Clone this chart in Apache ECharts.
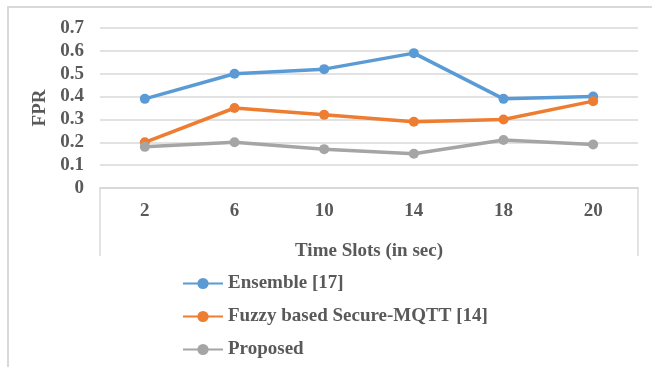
<!DOCTYPE html>
<html>
<head>
<meta charset="utf-8">
<script src="https://cdn.jsdelivr.net/npm/echarts@6/dist/echarts.min.js"></script>
<style>
  html, body { margin: 0; padding: 0; background: #fff; }
  #chart { width: 652px; height: 367px; }
</style>
</head>
<body>
<div id="chart"></div>
<script>
// Time slots on the x axis (seconds)
const timeSlots = ['2', '6', '10', '14', '18', '20'];

// False positive rate for each method
const ensemble = [0.39, 0.50, 0.52, 0.59, 0.39, 0.40];
const fuzzyMqtt = [0.20, 0.35, 0.32, 0.29, 0.30, 0.38];
const proposed = [0.18, 0.20, 0.17, 0.15, 0.21, 0.19];

const seriesNames = ['Ensemble [17]', 'Fuzzy based Secure-MQTT [14]', 'Proposed'];
const yTicks = { min: 0, max: 0.7, interval: 0.1 };

const FONT = '"Liberation Serif", "Times New Roman", serif';
const TEXT = '#595959';
const LINE = '#d9d9d9';
const FS = 19;

const chart = echarts.init(document.getElementById('chart'));

function lineSeries(name, data, color) {
  return {
    name: name,
    type: 'line',
    data: data,
    symbol: 'circle',
    symbolSize: 10,
    lineStyle: { width: 3.5, color: color },
    itemStyle: { color: color },
    z: 3
  };
}

chart.setOption({
  animation: false,
  textStyle: { fontFamily: FONT },
  grid: { left: 100, right: 14, top: 28, bottom: 179 },
  xAxis: {
    type: 'category',
    data: timeSlots,
    boundaryGap: true,
    axisLine: { lineStyle: { color: LINE, width: 1.5 } },
    axisTick: { show: false },
    axisLabel: { color: TEXT, fontSize: FS, fontWeight: 'bold', fontFamily: FONT, margin: 14 },
    name: 'Time Slots (in sec)',
    nameLocation: 'middle',
    nameGap: 54,
    nameTextStyle: { color: TEXT, fontSize: FS, fontWeight: 'bold', fontFamily: FONT }
  },
  yAxis: {
    type: 'value',
    min: yTicks.min,
    max: yTicks.max,
    interval: yTicks.interval,
    axisLine: { show: false },
    axisTick: { show: false },
    splitLine: { lineStyle: { color: LINE, width: 1.5 } },
    axisLabel: {
      color: TEXT, fontSize: FS, fontWeight: 'bold', fontFamily: FONT, margin: 16,
      formatter: v => (Math.round(v * 10) / 10).toString()
    },
    name: 'FPR',
    nameLocation: 'middle',
    nameRotate: 90,
    nameGap: 50,
    nameTextStyle: { color: TEXT, fontSize: FS, fontWeight: 'bold', fontFamily: FONT }
  },
  legend: {
    orient: 'vertical',
    left: 182,
    top: 274,
    padding: 0,
    itemWidth: 40,
    itemHeight: 14,
    itemGap: 14,
    data: seriesNames,
    textStyle: { color: TEXT, fontSize: FS, fontWeight: 'bold', fontFamily: FONT }
  },
  graphic: [
    {
      // outer chart-area frame
      type: 'rect',
      shape: { x: 8, y: 7, width: 700, height: 400 },
      style: { fill: 'none', stroke: LINE, lineWidth: 2 },
      silent: true
    },
    {
      // category axis frame below the plot
      type: 'polyline',
      shape: { points: [[100, 256], [100, 188], [638, 188], [638, 256]] },
      style: { fill: 'none', stroke: LINE, lineWidth: 1.5 },
      silent: true
    }
  ],
  series: [
    lineSeries(seriesNames[0], ensemble, '#5B9BD5'),
    lineSeries(seriesNames[1], fuzzyMqtt, '#ED7D31'),
    lineSeries(seriesNames[2], proposed, '#A5A5A5')
  ]
});
</script>
</body>
</html>
